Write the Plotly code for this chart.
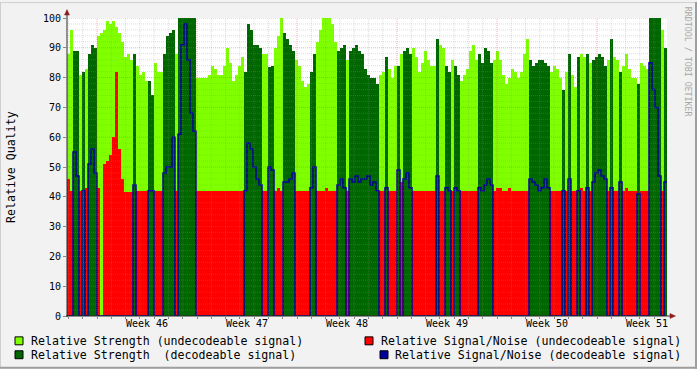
import plotly.graph_objects as go

# ---------------- data (one value per ~5 h bin) ----------------
STRENGTH = [
    88, 96, 89, 89, 81, 82, 83, 88, 91, 90, 94, 95, 96, 99, 98, 99, 97, 95, 92, 87,
    88, 86, 88, 84, 81, 82, 79, 79, 74, 85, 82, 82, 88,
    94, 95, 96, 88, 100, 100, 100, 100, 100, 100, 80, 80, 80, 80, 81, 84, 83, 81,
    81, 84, 90, 85, 79, 81, 84, 87, 82, 98, 96, 91, 91, 90, 88, 88,
    83.5, 84, 90, 94, 100, 95, 93, 91, 89, 86, 84, 79, 77, 78, 82, 88, 92, 96, 100,
    100, 100, 98, 92, 89, 90, 91, 86, 89, 90, 91, 89, 88, 83,
    81, 80, 80, 78, 81, 82, 87, 83, 80, 84, 84, 88, 89, 90, 88, 90, 87, 82, 85, 89,
    86, 84, 84, 93, 91, 90, 84, 82, 86, 84, 81, 79, 81,
    83, 89, 91, 86, 88, 85, 90, 89, 85, 86, 89, 86, 81, 78, 80, 83, 82, 80, 82, 88,
    93, 86, 84, 85, 86, 86, 85, 84, 82, 84, 83, 80, 76, 82,
    88, 81, 77, 87, 88, 87, 88, 85, 86, 87, 88, 87, 84, 86, 93, 87, 86, 82, 84, 88,
    83, 80, 80, 78, 85, 84, 83, 100, 100, 100, 100, 96, 90,
]
SNR = [
    46, 42, 55, 47, 42, 42, 43, 51, 56, 48, 43, 0, 51, 52, 54, 60, 82, 56, 46, 41.5,
    41.5, 41.5, 44, 42, 42, 42, 42, 42, 42, 42, 42, 42, 48,
    50, 50, 60, 42, 61, 91, 98, 86, 68, 62, 42, 42, 42, 42, 42, 42, 42, 42,
    42, 42, 42, 42, 42, 42, 42, 42, 42, 58, 56, 50, 46, 44, 42, 42,
    50, 49, 42, 43, 42, 45, 45, 46, 48, 42, 42, 42, 42, 42, 43, 50, 42, 42, 42,
    43, 42, 42, 42, 44, 46, 43, 42, 46, 45, 47, 45, 46, 46,
    47, 44, 45, 42, 42, 42, 43, 42, 42, 42, 49, 45, 46, 48, 43, 42, 42, 42, 42, 42,
    42, 42, 42, 47, 42, 42, 43, 42, 42, 43, 42, 42, 42,
    42, 42, 42, 42, 43, 42, 44, 46, 44, 42, 43, 43, 42, 42, 43, 42, 42, 42, 42, 42,
    42, 46, 45, 44, 42, 43, 46, 43, 42, 42, 42, 42, 42, 42,
    46, 42, 42, 42, 43, 42, 43, 42, 45, 48, 49, 47, 46, 42, 43, 42, 42, 45, 42, 43,
    42, 42, 42, 41, 42, 42, 42, 85, 76, 70, 47, 42, 45,
]
DECODEABLE = [
    0, 0, 1, 1, 0, 1, 0, 1, 1, 1, 0, 0, 0, 0, 0, 0, 0, 0, 0, 0,
    0, 0, 1, 0, 0, 0, 0, 1, 1, 0, 0, 0, 1,
    1, 1, 1, 0, 1, 1, 1, 1, 1, 1, 0, 0, 0, 0, 0, 0, 0, 0,
    0, 0, 0, 0, 0, 0, 0, 0, 1, 1, 1, 1, 1, 1, 0, 0,
    1, 1, 0, 0, 0, 1, 1, 1, 1, 0, 0, 0, 0, 0, 1, 1, 0, 0, 0,
    0, 0, 0, 0, 1, 1, 1, 0, 1, 1, 1, 1, 1, 1,
    1, 1, 1, 1, 0, 0, 1, 0, 0, 0, 1, 0, 1, 1, 1, 0, 0, 0, 0, 0,
    0, 0, 0, 1, 0, 0, 1, 1, 0, 1, 1, 0, 0,
    0, 0, 0, 0, 1, 1, 1, 1, 1, 0, 0, 0, 0, 0, 0, 0, 0, 0, 0, 0,
    0, 1, 1, 1, 1, 1, 1, 1, 0, 0, 0, 0, 1, 0,
    1, 0, 0, 1, 0, 0, 1, 0, 1, 1, 1, 1, 1, 0, 1, 0, 0, 1, 0, 0,
    0, 0, 0, 1, 0, 0, 0, 1, 1, 1, 1, 0, 1,
]
WEEK_LABELS = ["Week 46", "Week 47", "Week 48", "Week 49", "Week 50", "Week 51"]
Y_TICKS = [0, 10, 20, 30, 40, 50, 60, 70, 80, 90, 100]
SPAN_DAYS = 42.0          # six weeks shown
FIRST_WEEK_START = 2.1    # day offset of the first Monday 00:00 in the window

# ---------------- derived series ----------------
n = len(STRENGTH)
bw = SPAN_DAYS / n
centers = [(i + 0.5) * bw for i in range(n)]
edges = [i * bw for i in range(n + 1)]

str_und = [s if d == 0 else 0 for s, d in zip(STRENGTH, DECODEABLE)]
str_dec = [s if d == 1 else 0 for s, d in zip(STRENGTH, DECODEABLE)]
snr_und = [v if d == 0 else 0 for v, d in zip(SNR, DECODEABLE)]
snr_dec = [v if d == 1 else 0 for v, d in zip(SNR, DECODEABLE)]

C_LG, C_DG, C_RED, C_BLUE = "#80ff00", "#006600", "#ff0000", "#00009c"
FONT = "DejaVu Sans Mono"

fig = go.Figure()
fig.add_trace(go.Bar(x=centers, y=str_und, width=bw, marker=dict(color=C_LG, line=dict(width=0)),
                     name="Relative Strength (undecodeable signal)"))
fig.add_trace(go.Bar(x=centers, y=str_dec, width=bw, marker=dict(color=C_DG, line=dict(width=0)),
                     name="Relative Strength  (decodeable signal)"))
fig.add_trace(go.Bar(x=centers, y=snr_und, width=bw, marker=dict(color=C_RED, line=dict(width=0)),
                     name="Relative Signal/Noise (undecodeable signal)"))
fig.add_trace(go.Scatter(x=edges, y=snr_dec + [snr_dec[-1]], mode="lines",
                         line=dict(color=C_BLUE, width=1.5, shape="hv"),
                         name="Relative Signal/Noise (decodeable signal)"))

# ---------------- geometry helpers ----------------
W, H = 697, 369
L, R, T, B = 67, 667, 16, 316


def px(xp):
    return (xp - L) / (R - L)


def py(yp):
    return (B - yp) / (B - T)


shapes = []
MINOR = "rgba(143,143,143,0.30)"
MAJOR = "rgba(222,80,80,0.45)"
# horizontal grid
for v in range(2, 101, 2):
    shapes.append(dict(type="line", xref="x", yref="y", x0=0, x1=SPAN_DAYS, y0=v, y1=v,
                       line=dict(color=MAJOR if v % 10 == 0 else MINOR, width=1, dash="1px,1px"),
                       layer="above"))
# vertical grid (daily minor, weekly major)
d = FIRST_WEEK_START - 2
while d < SPAN_DAYS:
    if d > 0.01:
        is_major = abs(((d - FIRST_WEEK_START) / 7) - round((d - FIRST_WEEK_START) / 7)) < 1e-6
        shapes.append(dict(type="line", xref="x", yref="y", x0=d, x1=d, y0=0, y1=100,
                           line=dict(color=MAJOR if is_major else MINOR, width=1, dash="1px,1px"),
                           layer="above"))
    d += 1.0

AX = "#2a2a2a"
ARROW = "#8b1f1f"
# axes
shapes.append(dict(type="line", xref="paper", yref="paper", x0=0, x1=0, y0=py(B + 1), y1=py(12),
                   line=dict(color=AX, width=1), layer="above"))
shapes.append(dict(type="line", xref="paper", yref="paper", x0=px(L - 1), x1=px(671), y0=0, y1=0,
                   line=dict(color=AX, width=1), layer="above"))
# arrows
shapes.append(dict(type="path", xref="paper", yref="paper",
                   path=f"M {px(64.5)} {py(13)} L {px(69.5)} {py(13)} L {px(67)} {py(7.5)} Z",
                   fillcolor=ARROW, line=dict(color=ARROW, width=0.5), layer="above"))
shapes.append(dict(type="path", xref="paper", yref="paper",
                   path=f"M {px(670)} {py(313.5)} L {px(670)} {py(318.5)} L {px(675.5)} {py(316)} Z",
                   fillcolor=ARROW, line=dict(color=ARROW, width=0.5), layer="above"))
# 3D border
shapes.append(dict(type="line", xref="paper", yref="paper", x0=px(0), x1=px(W), y0=py(0.5), y1=py(0.5),
                   line=dict(color="#cfcfcf", width=1)))
shapes.append(dict(type="line", xref="paper", yref="paper", x0=px(0.5), x1=px(0.5), y0=py(0), y1=py(H),
                   line=dict(color="#cfcfcf", width=1)))
shapes.append(dict(type="line", xref="paper", yref="paper", x0=px(0), x1=px(W), y0=py(H - 1), y1=py(H - 1),
                   line=dict(color="#9e9e9e", width=2)))
shapes.append(dict(type="line", xref="paper", yref="paper", x0=px(W - 1), x1=px(W - 1), y0=py(0), y1=py(H),
                   line=dict(color="#9e9e9e", width=2)))

# legend squares + text
legend_items = [
    (15, 337, C_LG, 30, 341, "Relative Strength (undecodeable signal)"),
    (15, 351, C_DG, 30, 355, "Relative Strength\u00a0 (decodeable signal)"),
    (365, 337, C_RED, 380, 341, "Relative Signal/Noise (undecodeable signal)"),
    (380, 351, C_BLUE, 394, 355, "Relative Signal/Noise (decodeable signal)"),
]
annotations = []
for sx, sy, col, tx, ty, label in legend_items:
    shapes.append(dict(type="rect", xref="paper", yref="paper",
                       x0=px(sx), x1=px(sx + 8), y0=py(sy), y1=py(sy + 8),
                       fillcolor=col, line=dict(color="#000000", width=1)))
    annotations.append(dict(xref="paper", yref="paper", x=px(tx - 1), y=py(ty), xanchor="left",
                            yanchor="middle", text=label, showarrow=False,
                            font=dict(family=FONT, size=11.6, color="#000000")))

annotations.append(dict(xref="paper", yref="paper", x=px(11), y=py(166), text="Relative Quality",
                        textangle=-90, showarrow=False, xanchor="center", yanchor="middle",
                        font=dict(family=FONT, size=11.6, color="#000000")))
annotations.append(dict(xref="paper", yref="paper", x=px(688), y=py(60), text="RRDTOOL / TOBI OETIKER",
                        textangle=90, showarrow=False, xanchor="center", yanchor="middle",
                        font=dict(family=FONT, size=8.3, color="#a8a8a8")))

week_mid = [FIRST_WEEK_START + 3.5 + 7 * i for i in range(len(WEEK_LABELS))]

fig.update_layout(
    width=W, height=H,
    margin=dict(l=L, r=W - R, t=T, b=H - B, pad=0),
    paper_bgcolor="#f2f2f2", plot_bgcolor="#ffffff",
    barmode="overlay", bargap=0, showlegend=False,
    shapes=shapes, annotations=annotations,
    xaxis=dict(range=[0, SPAN_DAYS], showgrid=False, zeroline=False, showline=False,
               tickmode="array", tickvals=week_mid, ticktext=WEEK_LABELS, ticks="",
               tickfont=dict(family=FONT, size=10, color="#000000"),
               minor=dict(ticks="outside", ticklen=2, tick0=FIRST_WEEK_START, dtick=1,
                          tickcolor="#888888", showgrid=False),
               fixedrange=True),
    yaxis=dict(range=[0, 100], showgrid=False, zeroline=False, showline=False,
               tickmode="array", tickvals=Y_TICKS, ticks="outside", ticklen=3, tickcolor="#888888",
               tickfont=dict(family=FONT, size=10, color="#000000"), fixedrange=True),
    hovermode=False,
)

fig.write_html("out.html")
